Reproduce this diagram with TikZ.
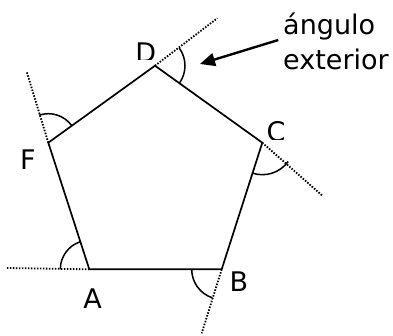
\documentclass[tikz,border=0pt]{standalone}
\usepackage{fontspec}
\setmainfont{DejaVu Sans}
\usetikzlibrary{arrows.meta}
\begin{document}
\begin{tikzpicture}[x=1pt,y=1pt,
  side/.style={line width=1.7pt, line join=miter},
  ext/.style={line width=1.8pt, dash pattern=on 1.5pt off 1.5pt},
  angarc/.style={line width=1.5pt},
  lbl/.style={inner sep=0pt, font=\fontsize{27}{32}\selectfont},
  pointer/.style={line width=2.4pt, -{Triangle[length=15pt,width=13pt]}}]
\useasboundingbox (0,0) rectangle (393,335);
% vertices
\coordinate (A) at (89.3,65.7);
\coordinate (B) at (221.7,65.7);
\coordinate (C) at (262.3,192.3);
\coordinate (D) at (155,269.3);
\coordinate (F) at (48.3,192.3);
% free ends of extension lines
\coordinate (EA) at (6.7,67);
\coordinate (EB) at (201.7,1.7);
\coordinate (EC) at (322.7,139);
\coordinate (ED) at (217.3,316.7);
\coordinate (EF) at (26.7,263.3);
% extensions
\draw[ext] (A) -- (EA);
\draw[ext] (B) -- (EB);
\draw[ext] (C) -- (EC);
\draw[ext] (D) -- (ED);
\draw[ext] (F) -- (EF);
% pentagon
\draw[side] (A) -- (B) -- (C) -- (D) -- (F) -- cycle;
% exterior angle arcs
\draw[angarc] ([shift={(108:29)}]A) arc[start angle=108, end angle=180, radius=29];
\draw[angarc] ([shift={(180:30)}]B) arc[start angle=180, end angle=252, radius=30];
\draw[angarc] ([shift={(252:32)}]C) arc[start angle=252, end angle=324, radius=32];
\draw[angarc] ([shift={(-36:30)}]D) arc[start angle=-36, end angle=36, radius=30];
\draw[angarc] ([shift={(36:29)}]F) arc[start angle=36, end angle=108, radius=29];
% labels
\node[lbl] (lA) at (92.5,36.2) {A};
\node[lbl] (lF) at (28,175.3) {F};
\begin{scope}
\clip (125,275) rectangle (170,305);
\node[lbl] (lD) at (145.8,282.5) {D};
\end{scope}
\begin{scope}
\clip (255,195) rectangle (284,225);
\node[lbl] (lC) at (276,203.5) {C};
\end{scope}
\begin{scope}
\clip (222,45) rectangle (260,75);
\node[lbl] (lB) at (239,53.5) {B};
\end{scope}
% annotation
\node[lbl, anchor=base west] (ang) at (283,300) {ángulo};
\node[lbl, anchor=base west] (extl) at (283,265) {exterior};
\coordinate (tail) at (278.3,295);
\coordinate (tip) at (200,271);
\draw[pointer] (tail) -- (tip);
\end{tikzpicture}
\end{document}
